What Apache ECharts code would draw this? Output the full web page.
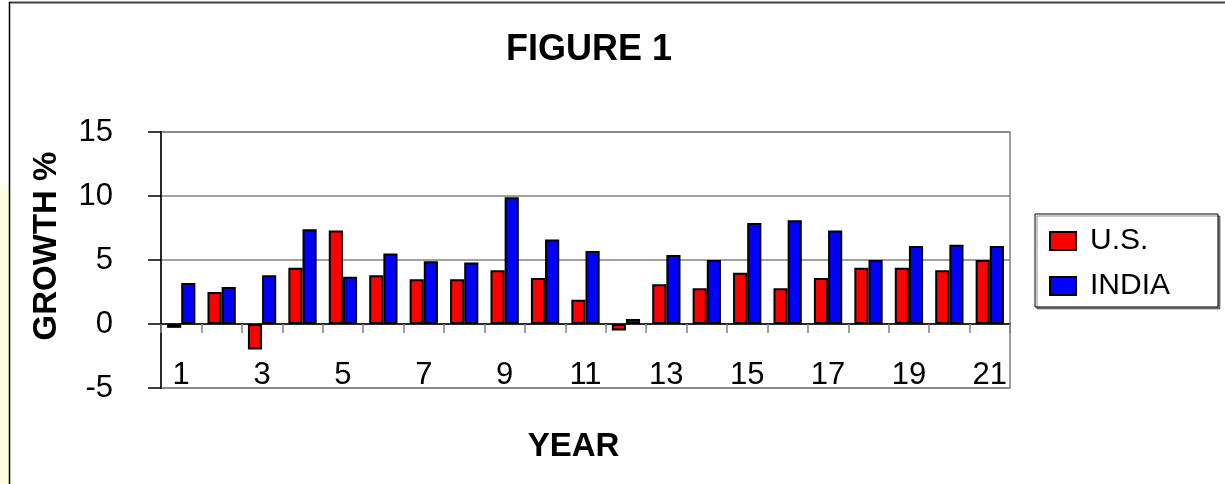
<!DOCTYPE html>
<html>
<head>
<meta charset="utf-8">
<style>
  html, body { margin: 0; padding: 0; background: #fff; }
  #chart { width: 1225px; height: 484px; }
</style>
<script src="https://cdn.jsdelivr.net/npm/echarts@6/dist/echarts.min.js"></script>
</head>
<body>
<div id="chart"></div>
<script>
// Annual growth rates (%) for years 1..21
const years = ['1','2','3','4','5','6','7','8','9','10','11','12','13','14','15','16','17','18','19','20','21'];
const usGrowth    = [-0.3, 2.5, -2.0, 4.4, 7.3, 3.8, 3.5, 3.5, 4.2, 3.6, 1.9, -0.5, 3.1, 2.8, 4.0, 2.8, 3.6, 4.4, 4.4, 4.2, 5.0];
const indiaGrowth = [3.2, 2.9, 3.8, 7.4, 3.7, 5.5, 4.9, 4.8, 9.9, 6.6, 5.7, 0.4, 5.4, 5.0, 7.9, 8.1, 7.3, 5.0, 6.1, 6.2, 6.1];
const yTicks = { min: -5, max: 15, step: 5 };

const FONT = '"Liberation Sans", Arial, sans-serif';
const chart = echarts.init(document.getElementById('chart'), null, { renderer: 'canvas' });

chart.setOption({
  backgroundColor: '#ffffff',
  animation: false,
  textStyle: { fontFamily: FONT, color: '#000' },
  title: {
    text: 'FIGURE 1',
    left: 584,
    textAlign: 'center',
    top: 27,
    textStyle: { fontFamily: FONT, fontSize: 36, fontWeight: 'bold', color: '#000' }
  },
  legend: {
    orient: 'vertical',
    left: 1035,
    top: 214,
    padding: [12, 48, 6, 14],
    itemGap: 15,
    itemWidth: 26,
    itemHeight: 18,
    icon: 'rect',
    backgroundColor: '#fff',
    borderColor: '#000',
    borderWidth: 1,
    shadowColor: 'rgba(0,0,0,0.45)',
    shadowOffsetX: 2,
    shadowOffsetY: 2,
    shadowBlur: 0,
    itemStyle: { borderColor: '#000', borderWidth: 2 },
    textStyle: { fontFamily: FONT, fontSize: 30, color: '#000', padding: [0, 0, 0, 9] },
    data: ['U.S.', 'INDIA']
  },
  grid: {
    left: 161,
    right: 215,
    top: 132,
    bottom: 96,
    outerBoundsMode: 'none',
    containLabel: false,
    show: true,
    borderColor: '#808080',
    borderWidth: 1.5,
    backgroundColor: '#fff'
  },
  xAxis: {
    type: 'category',
    data: years,
    name: 'YEAR',
    nameLocation: 'middle',
    nameGap: 42,
    nameTextStyle: { fontFamily: FONT, fontSize: 33, fontWeight: 'bold', color: '#000', padding: [0, 24, 0, 0] },
    axisLine: { onZero: true, lineStyle: { color: '#000', width: 1.5 } },
    axisTick: { show: true, interval: 0, length: 9, lineStyle: { color: '#808080', width: 1.5 } },
    axisLabel: { interval: 1, margin: -28, fontFamily: FONT, fontSize: 31, color: '#000' },
    splitLine: { show: false }
  },
  yAxis: {
    type: 'value',
    min: yTicks.min,
    max: yTicks.max,
    interval: yTicks.step,
    name: 'GROWTH %',
    nameLocation: 'middle',
    nameGap: 98,
    nameTextStyle: { fontFamily: FONT, fontSize: 33, fontWeight: 'bold', color: '#000', padding: [0, 0, 0, 28] },
    axisLine: { show: true, lineStyle: { color: '#000', width: 1.5 } },
    axisTick: { show: true, length: 13, lineStyle: { color: '#000', width: 1.5 } },
    axisLabel: { margin: 48, fontFamily: FONT, fontSize: 31, color: '#000' },
    splitLine: { show: true, lineStyle: { color: '#808080', width: 1.5 } }
  },
  series: [
    {
      name: 'U.S.',
      type: 'bar',
      data: usGrowth,
      barGap: '0%',
      barCategoryGap: '30%',
      itemStyle: { color: '#ff0000', borderColor: '#000', borderWidth: 2 }
    },
    {
      name: 'INDIA',
      type: 'bar',
      data: indiaGrowth,
      barGap: '0%',
      barCategoryGap: '30%',
      itemStyle: { color: '#0000ff', borderColor: '#000', borderWidth: 2 }
    }
  ],
  graphic: [
    // pale margin strip on the far left
    { type: 'rect', left: 0, top: 185, z: -1, shape: { width: 9, height: 299 }, style: { fill: '#fffce0' } },
    // outer frame: top and left edges
    { type: 'line', z: 10, shape: { x1: 9, y1: 2.5, x2: 1225, y2: 2.5 }, style: { stroke: '#404040', lineWidth: 2 } },
    { type: 'line', z: 10, shape: { x1: 9.5, y1: 2, x2: 9.5, y2: 484 }, style: { stroke: '#000', lineWidth: 1.5 } }
  ]
});
</script>
</body>
</html>
